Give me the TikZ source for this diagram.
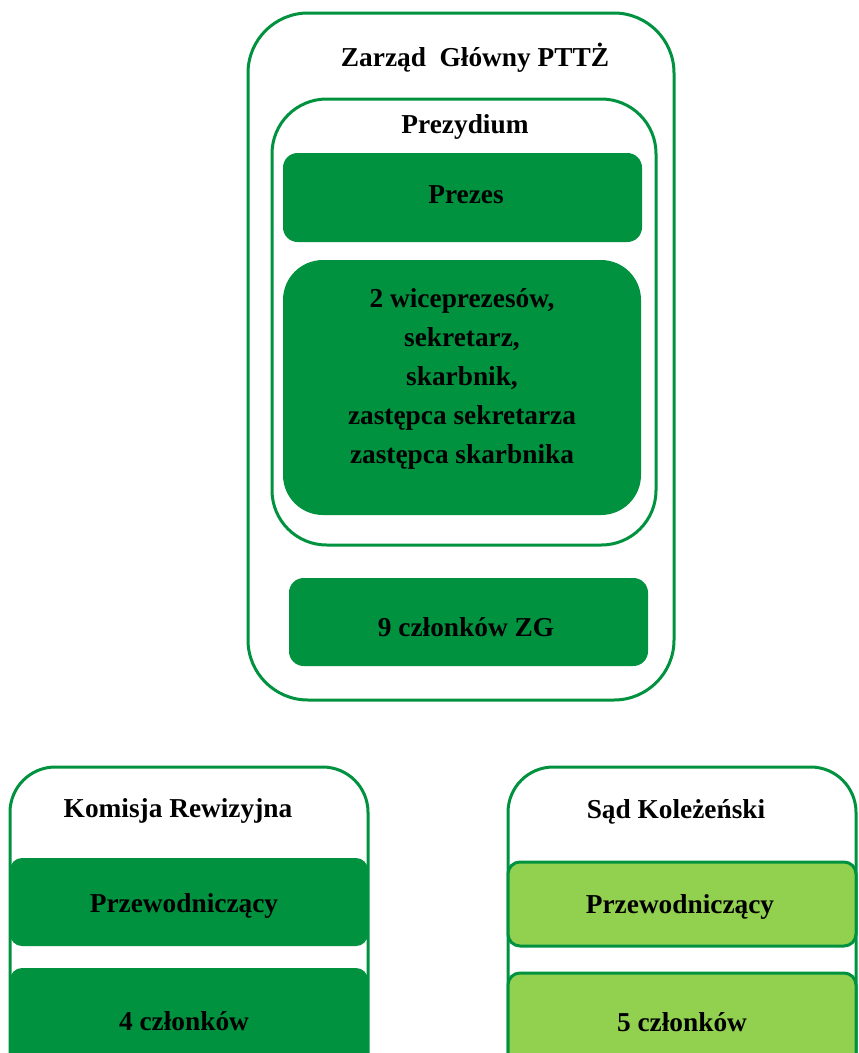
\documentclass[tikz,border=0pt]{standalone}
\usepackage{fontspec}
\setmainfont{Liberation Serif}
\definecolor{ciemnozielony}{RGB}{0,146,63}
\definecolor{jasnozielony}{RGB}{146,208,80}
\tikzset{
  ramka/.style={rectangle, draw=ciemnozielony, line width=2.25pt, inner sep=0pt},
  pole/.style={rectangle, fill=ciemnozielony, rounded corners=11pt, inner sep=0pt},
  polejasne/.style={rectangle, fill=jasnozielony, draw=ciemnozielony, line width=2.25pt, rounded corners=9pt, inner sep=0pt},
}
\begin{document}
\begin{tikzpicture}[x=0.75pt, y=-0.75pt, font=\bfseries\fontsize{20.5}{29.25}\selectfont]
    \clip (0,0) rectangle (858,1053);
    % Zarzad Glowny
    \node[ramka, rounded corners=45pt, minimum width=319.5pt, minimum height=515.25pt] (zg) at (461,356.5) {};
    \node (zgtytul) at (475,58) {Zarząd\ \ Główny PTTŻ};
    % Prezydium
    \node[ramka, rounded corners=41pt, minimum width=288pt, minimum height=334.5pt] (prezydium) at (464,322) {};
    \node (prezydiumtytul) at (465,127) {Prezydium};
    \node[pole, minimum width=269.25pt, minimum height=66.75pt] (prezes) at (462.5,197.5) {};
    \node (prezestekst) at (466,195) {Prezes};
    \node[pole, rounded corners=30pt, minimum width=268.5pt, minimum height=191.25pt] (sklad) at (462,387.5) {};
    \node[align=center] (skladtekst) at (462,379)
      {2 wiceprezesów,\\sekretarz,\\skarbnik,\\zastępca sekretarza\\zastępca skarbnika};
    % czlonkowie ZG
    \node[pole, minimum width=269.25pt, minimum height=66pt] (czlonkowiezg) at (468.5,622) {};
    \node (czlonkowiezgtekst) at (466,627) {9 członków ZG};
    % Komisja Rewizyjna
    \node[ramka, rounded corners=34pt, minimum width=268.5pt, minimum height=264.75pt] (kr) at (189,943.5) {};
    \node (krtytul) at (178,811) {Komisja Rewizyjna};
    \node[pole, rounded corners=9pt, minimum width=268.5pt, minimum height=66pt] (krprzew) at (189,902) {};
    \node (krprzewtekst) at (184,906) {Przewodniczący};
    \node[pole, rounded corners=9pt, minimum width=268.5pt, minimum height=114pt] (krczlonkowie) at (189,1044) {};
    \node (krczltekst) at (184,1021) {4 członków};
    % Sad Kolezenski
    \node[ramka, rounded corners=34pt, minimum width=261pt, minimum height=264.75pt] (sk) at (682,943.5) {};
    \node (sktytul) at (676,812) {Sąd Koleżeński};
    \node[polejasne, minimum width=261pt, minimum height=63pt] (skprzew) at (682,904) {};
    \node (skprzewtekst) at (680,907) {Przewodniczący};
    \node[polejasne, minimum width=261pt, minimum height=110.25pt] (skczlonkowie) at (682,1046.5) {};
    \node (skczltekst) at (682,1022) {5 członków};
\end{tikzpicture}
\end{document}
